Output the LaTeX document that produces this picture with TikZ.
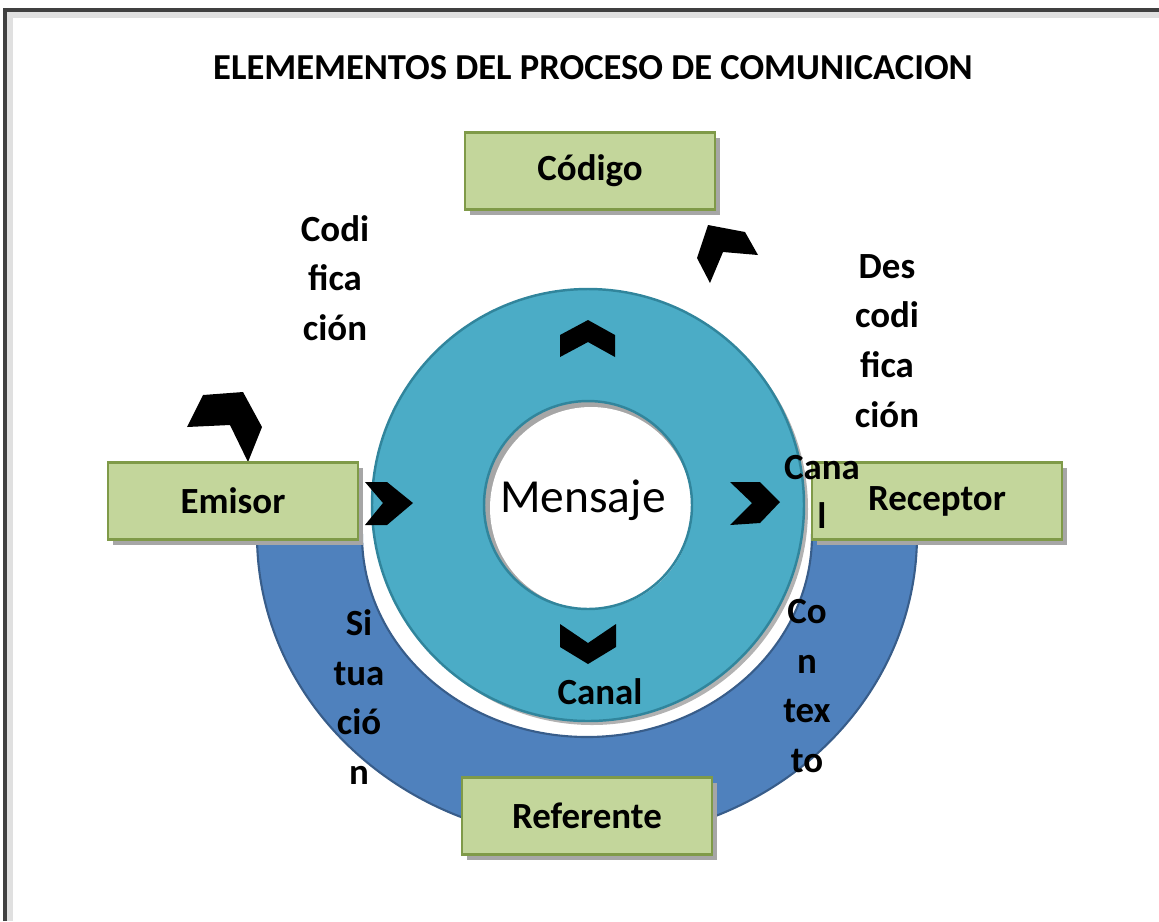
\documentclass[tikz,border=0pt]{standalone}
\usepackage{fontspec}
\setmainfont{Carlito}
\usetikzlibrary{shadows,positioning}
\definecolor{boxfill}{HTML}{C3D69B}
\definecolor{boxline}{HTML}{7F9A48}
\definecolor{ringteal}{HTML}{4BACC6}
\definecolor{ringline}{HTML}{31859C}
\definecolor{arcblue}{HTML}{4F81BD}
\definecolor{arcline}{HTML}{385D8A}
\tikzset{
  elemento/.style={draw=boxline, line width=1.4pt, fill=boxfill,
    minimum width=5cm, minimum height=1.54cm,
    font=\bfseries\fontsize{21}{25}\selectfont,
    drop shadow={shadow xshift=.1cm, shadow yshift=-.1cm, fill=black!35, opacity=1}},
  etiqueta/.style={align=center, font=\bfseries\fontsize{21}{28.3}\selectfont},
  chevron/.style={fill=black},
}

\begin{document}
\begin{tikzpicture}[x=0.02cm, y=0.02cm]
        \useasboundingbox (0,0) rectangle (1159,-921);
        % marco
        \draw[line width=3pt, black!12] (10,-921) -- (10,-15) -- (1159,-15);
        \draw[line width=2pt, black!75] (5,-921) -- (5,-10) -- (1159,-10);
        \node[font=\bfseries\fontsize{20.8}{25}\selectfont] (titulo) at (593,-68) {ELEMEMENTOS DEL PROCESO DE COMUNICACION};

        % semicirculo azul
        \filldraw[fill=arcblue, draw=arcline, line width=1.2pt]
          (257,-535) arc[start angle=180, end angle=360, x radius=330, y radius=305]
          -- (812,-535) arc[start angle=0, end angle=-180, x radius=225, y radius=202] -- cycle;

        % anillo
        \fill[black!30] (592,-509) circle[radius=216];
        \filldraw[fill=ringteal, draw=ringline, line width=1.4pt] (588,-505) circle[radius=216];
        \fill[black!35] (588,-505) circle[radius=104];
        \fill[white] (591,-508) circle[radius=101];
        \draw[ringline, line width=1.4pt] (588,-505) circle[radius=104];
        \node (mensaje) at (583,-500) {\fontsize{27}{32}\selectfont Mensaje};

        % flechas del anillo
        \fill[chevron] (560,-335) -- (588,-320) -- (615,-335) -- (615,-357) -- (588,-342) -- (560,-357) -- cycle;
        \fill[chevron] (560,-624) -- (588,-643) -- (616,-624) -- (616,-647) -- (588,-664) -- (560,-647) -- cycle;
        \fill[chevron] (365,-482) -- (387,-482) -- (413,-503) -- (387,-525) -- (365,-525) -- (383,-503) -- cycle;
        \fill[chevron] (730,-482) -- (760,-482) -- (780,-502) -- (760,-523) -- (730,-525) -- (752,-503) -- cycle;
        % flechas sueltas
        \fill[chevron] (708,-225) -- (745,-232) -- (758,-255) -- (723,-252) -- (710,-283) -- (697,-258) -- cycle;
        \fill[chevron] (187,-427) -- (203,-395) -- (243,-392) -- (262,-427) -- (248,-462) -- (230,-425) -- cycle;

        % cajas
        \node[elemento] (codigo) at (590,-171) {Código};
        \node[elemento] (emisor) at (233,-501) {Emisor};
        \node[elemento] (receptor) at (937,-501) {Receptor};
        \node[elemento] (referente) at (587,-816) {Referente};

        % textos
        \node[etiqueta] (codif) at (335,-278) {Codi\\fica\\ción};
        \node[etiqueta] (descodif) at (887,-341) {Des\\codi\\fica\\ción};
        \node[etiqueta] (canal1) at (822,-492) {Cana\\l};
        \node[etiqueta] (canal2) at (600,-692) {Canal};
        \node[etiqueta] (situacion) at (359,-697) {Si\\tua\\ció\\n};
        \node[etiqueta] (contexto) at (807,-686) {Co\\n\\tex\\to};
      \end{tikzpicture}
\end{document}
